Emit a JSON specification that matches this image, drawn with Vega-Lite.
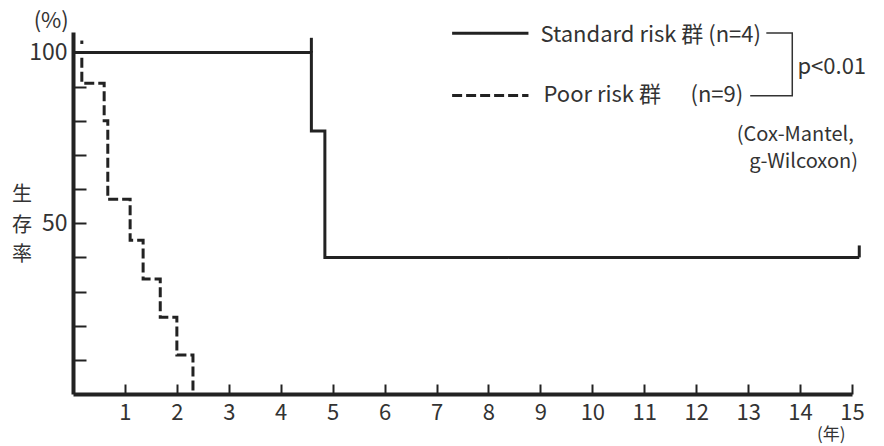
{
  "$schema": "https://vega.github.io/schema/vega-lite/v6.json",
  "autosize": {"type": "none"},
  "padding": {"left": 73, "top": 32, "right": 32, "bottom": 52},
  "width": 779,
  "height": 362,
  "background": "white",
  "config": {
    "view": {"stroke": null},
    "font": "Noto Sans CJK JP",
    "axis": {"grid": false, "title": null, "domainColor": "#222", "tickColor": "#222", "labelColor": "#333", "labelFont": "Noto Sans CJK JP"}
  },
  "datasets": {
    "curves": [
      {"t": 0, "s": 100, "group": "Standard"},
      {"t": 4.59, "s": 77, "group": "Standard"},
      {"t": 4.85, "s": 40, "group": "Standard"},
      {"t": 15.14, "s": 40, "group": "Standard"},
      {"t": 0, "s": 100, "group": "Poor"},
      {"t": 0.17, "s": 91, "group": "Poor"},
      {"t": 0.6, "s": 80, "group": "Poor"},
      {"t": 0.67, "s": 57, "group": "Poor"},
      {"t": 1.1, "s": 45, "group": "Poor"},
      {"t": 1.35, "s": 33.7, "group": "Poor"},
      {"t": 1.68, "s": 22.5, "group": "Poor"},
      {"t": 2.0, "s": 11.4, "group": "Poor"},
      {"t": 2.31, "s": 0, "group": "Poor"}
    ],
    "censor": [
      {"t": 4.59, "y": 100, "y2": 104.3, "group": "Standard"},
      {"t": 15.14, "y": 40, "y2": 43.5, "group": "Standard"},
      {"t": 0.17, "y": 102.5, "y2": 103.5, "group": "Standard"}
    ],
    "legendLines": [
      {"x": 7.3, "x2": 8.77, "y": 105.6, "group": "Standard"},
      {"x": 7.3, "x2": 8.77, "y": 87.4, "group": "Poor"}
    ],
    "bracket": [
      {"bx": 13.35, "by": 105.7, "o": 1},
      {"bx": 13.85, "by": 105.7, "o": 2},
      {"bx": 13.85, "by": 87.3, "o": 3},
      {"bx": 13.04, "by": 87.3, "o": 4}
    ],
    "leftTexts": [
      {"tx": 9.0, "ty": 105.2, "label": "Standard risk 群 (n=4)", "fs": 22},
      {"tx": 9.06, "ty": 87.5, "label": "Poor risk 群", "fs": 22},
      {"tx": 11.89, "ty": 87.5, "label": "(n=9)", "fs": 22},
      {"tx": 13.95, "ty": 95.8, "label": "p<0.01", "fs": 22},
      {"tx": 12.78, "ty": 75.9, "label": "(Cox-Mantel,", "fs": 20},
      {"tx": 13.02, "ty": 67.9, "label": "g-Wilcoxon)", "fs": 20}
    ],
    "centerTexts": [
      {"tx": -0.42, "ty": 109.2, "label": "(%)", "fs": 22},
      {"tx": -0.98, "ty": 58.4, "label": "生", "fs": 20},
      {"tx": -0.98, "ty": 49.3, "label": "存", "fs": 20},
      {"tx": -0.98, "ty": 40.6, "label": "率", "fs": 20},
      {"tx": 14.6, "ty": -12.15, "label": "(年)", "fs": 17}
    ]
  },
  "layer": [
    {
      "data": {"name": "curves"},
      "mark": {"type": "line", "interpolate": "step-after", "strokeWidth": 3, "color": "#222", "strokeCap": "butt"},
      "encoding": {
        "x": {"field": "t", "type": "quantitative", "scale": {"domain": [0, 15], "nice": false},
          "axis": {"values": [1,2,3,4,5,6,7,8,9,10,11,12,13,14,15], "tickSize": -10, "tickWidth": 2, "domainWidth": 4, "labelFontSize": 22, "labelPadding": 18, "labelFlush": false}},
        "y": {"field": "s", "type": "quantitative", "scale": {"domain": [0, 106], "nice": false},
          "axis": {"values": [10,20,30,40,50,60,70,80,90,100], "tickSize": -13, "tickWidth": 2, "domainWidth": 4, "labelFontSize": 23, "labelPadding": 19,
            "labelExpr": "datum.value == 50 || datum.value == 100 ? datum.label : ''"}},
        "strokeDash": {"field": "group", "type": "nominal", "scale": {"domain": ["Standard", "Poor"], "range": [[1, 0], [10, 4]]}, "legend": null}
      }
    },
    {
      "data": {"name": "censor"},
      "mark": {"type": "rule", "strokeWidth": 3, "color": "#222"},
      "encoding": {
        "x": {"field": "t", "type": "quantitative"},
        "y": {"field": "y", "type": "quantitative"},
        "y2": {"field": "y2"}
      }
    },
    {
      "data": {"name": "legendLines"},
      "mark": {"type": "rule", "strokeWidth": 3, "color": "#222"},
      "encoding": {
        "x": {"field": "x", "type": "quantitative"},
        "x2": {"field": "x2"},
        "y": {"field": "y", "type": "quantitative"},
        "strokeDash": {"field": "group", "type": "nominal", "scale": {"domain": ["Standard", "Poor"], "range": [[1, 0], [10, 4]]}, "legend": null}
      }
    },
    {
      "data": {"name": "bracket"},
      "mark": {"type": "line", "strokeWidth": 1.5, "color": "#333"},
      "encoding": {
        "x": {"field": "bx", "type": "quantitative"},
        "y": {"field": "by", "type": "quantitative"},
        "order": {"field": "o", "type": "quantitative"}
      }
    },
    {
      "data": {"name": "leftTexts"},
      "mark": {"type": "text", "align": "left", "baseline": "middle", "color": "#333"},
      "encoding": {
        "x": {"field": "tx", "type": "quantitative"},
        "y": {"field": "ty", "type": "quantitative"},
        "text": {"field": "label"},
        "size": {"field": "fs", "type": "quantitative", "scale": null}
      }
    },
    {
      "data": {"name": "centerTexts"},
      "mark": {"type": "text", "align": "center", "baseline": "middle", "color": "#333"},
      "encoding": {
        "x": {"field": "tx", "type": "quantitative"},
        "y": {"field": "ty", "type": "quantitative"},
        "text": {"field": "label"},
        "size": {"field": "fs", "type": "quantitative", "scale": null}
      }
    }
  ]
}
